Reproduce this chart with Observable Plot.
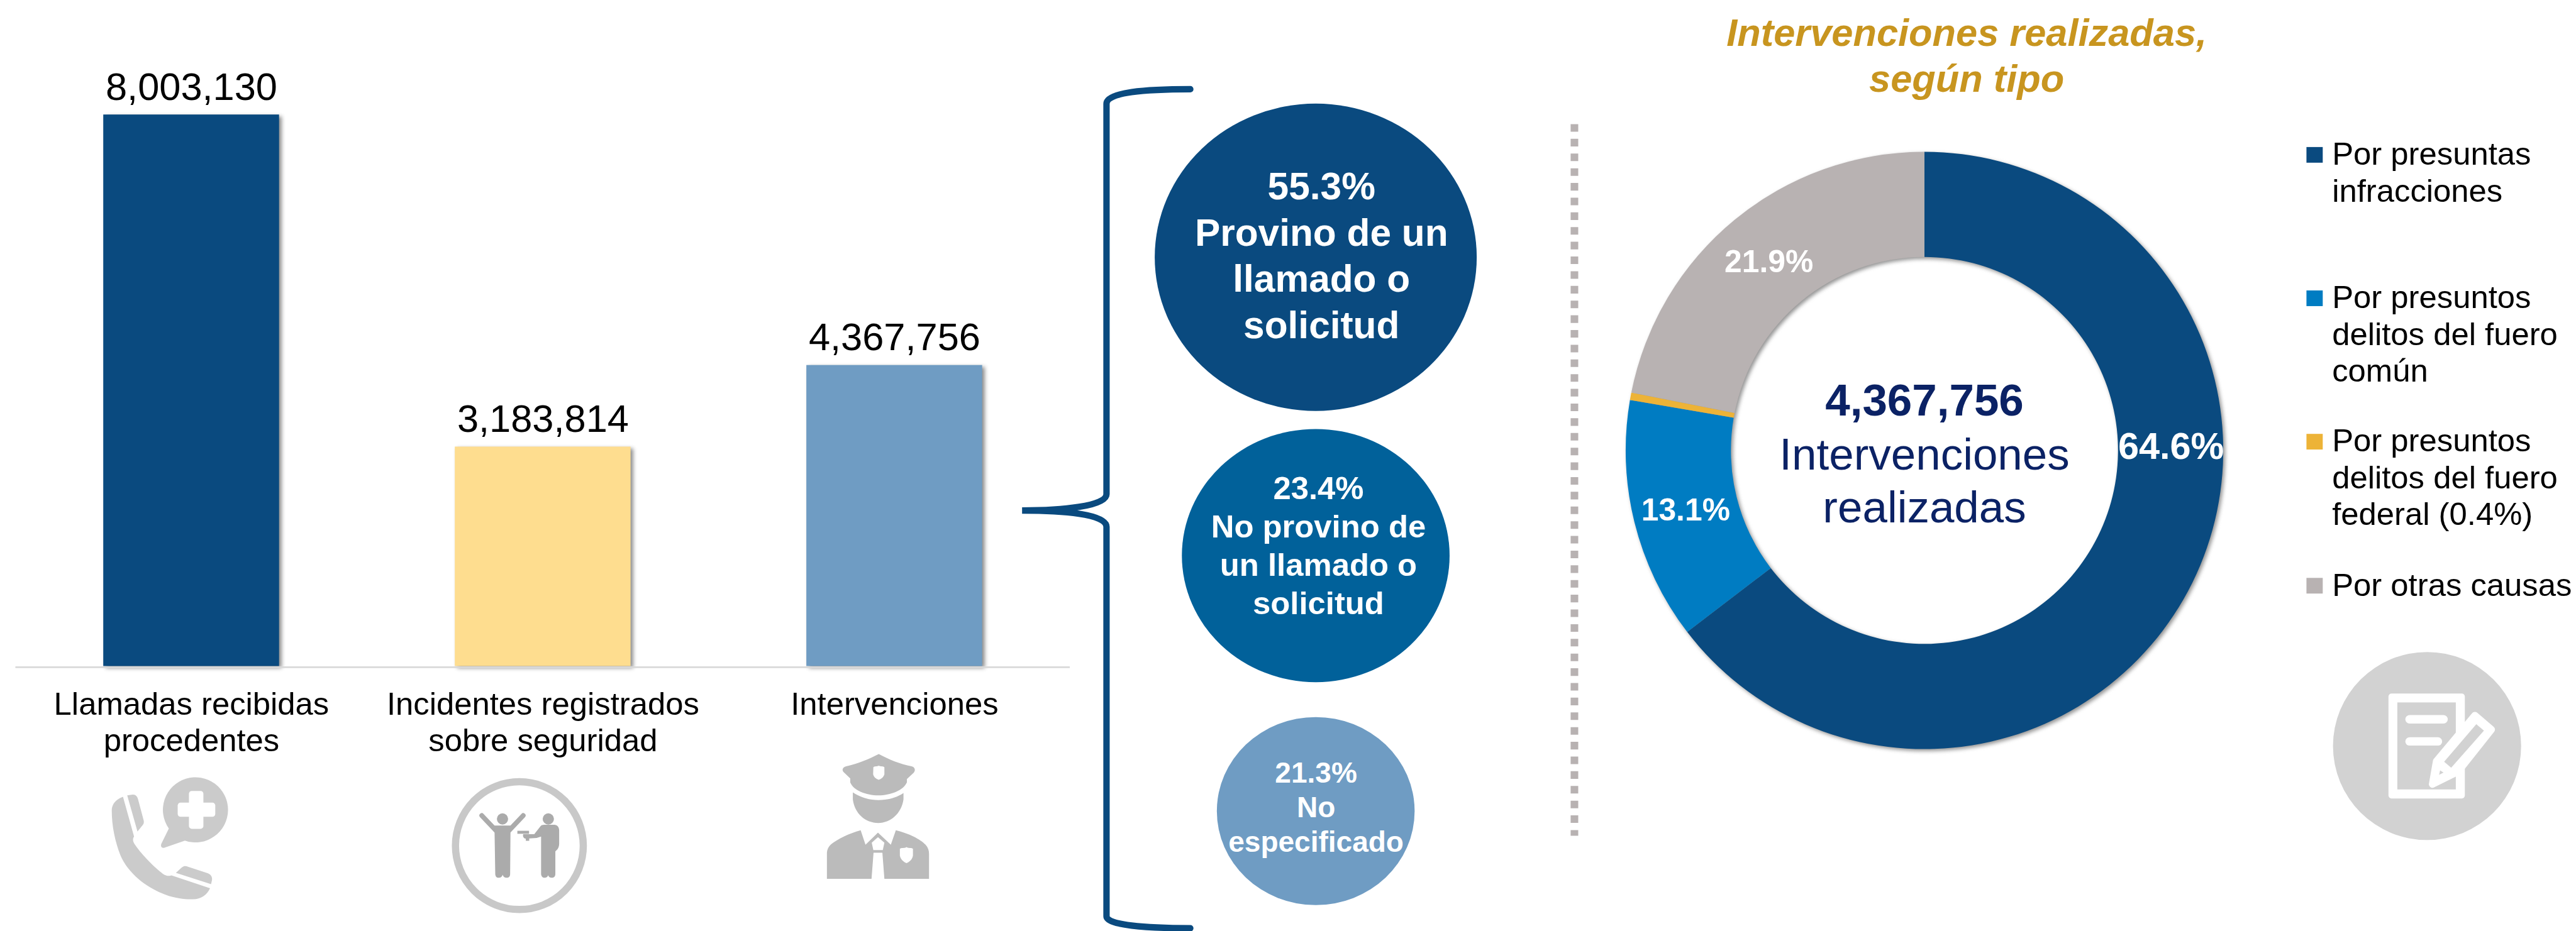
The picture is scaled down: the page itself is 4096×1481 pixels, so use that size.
<!DOCTYPE html>
<html><head><meta charset="utf-8">
<script src="https://cdn.jsdelivr.net/npm/d3@7"></script>
<script src="https://cdn.jsdelivr.net/npm/@observablehq/plot@0.6"></script>
<style>
html,body{margin:0;padding:0;background:#fff;overflow:hidden}
#stage{position:relative;width:4096px;height:1481px;background:#fff;overflow:hidden}
#stage svg{position:absolute;left:0;top:0;background:transparent}
</style></head><body><div id="stage"></div>
<script>
// ---------- data ----------
const categories = ["Llamadas recibidas\nprocedentes", "Incidentes registrados\nsobre seguridad", "Intervenciones"];
const counts = [8003130, 3183814, 4367756];
const barColors = ["#0A4A7F", "#FEDD8F", "#6F9CC3"];

const originLabels = ["55.3%\nProvino de un\nllamado o\nsolicitud", "23.4%\nNo provino de\nun llamado o\nsolicitud", "21.3%\nNo\nespecificado"];
const originColors = ["#0A4A7F", "#01619A", "#6F9CC3"];

const typeNames = ["Por presuntas\ninfracciones", "Por presuntos\ndelitos del fuero\ncomún", "Por presuntos\ndelitos del fuero\nfederal (0.4%)", "Por otras causas"];
const typeShares = [64.6, 13.1, 0.4, 21.9];
const typeColors = ["#0A4A7F", "#007CC2", "#EDB337", "#B8B2B2"];
const typeLabels = ["64.6%", "13.1%", "", "21.9%"];

const totalLabel = "4,367,756";
const centerLabel = "Intervenciones\nrealizadas";
const chartTitle = "Intervenciones realizadas,\nsegún tipo";

// ---------- layout, in reference pixels ----------
const REF_W = 4272, REF_H = 1545, W = 4096, H = 1481, k = W / REF_W;
const FONT = "Liberation Sans, Arial, sans-serif";
const bubbles = [
  {x: 2182, y: 427, rx: 267, ry: 255, fs: 63, lh: 77, top: 330, tx: 2191},
  {x: 2182, y: 922, rx: 222, ry: 210, fs: 53, lh: 63.5, top: 828, tx: 2186},
  {x: 2182, y: 1346, rx: 164, ry: 156, fs: 48, lh: 57.5, top: 1298, tx: 2182}
];
const legendY = [273, 511, 749, 988];
const donut = {x: 3191.5, y: 747.5, outer: 495.5, inner: 321};
const donutLabelPos = [
  {x: 3600, y: 761, fs: 62}, {x: 2795, y: 863, fs: 52}, null, {x: 2933, y: 451, fs: 52}
];

// All helpers draw through two linear scales spanning the reference frame.
const frame = {width: W, height: H, margin: 0, style: {background: "transparent", fontFamily: FONT},
  x: {domain: [0, REF_W], range: [0, W], axis: null}, y: {domain: [0, REF_H], range: [0, H], axis: null}};

// text placed by the baseline of its first line
const textLines = (str, x, y, fs, lh, opts = {}) =>
  Plot.text(str.split("\n").map((t, i) => ({t, x, y: y + i * lh})), {
    x: "x", y: "y", text: "t", fontSize: fs * k, lineAnchor: "bottom",
    fontFamily: FONT, ...opts
  });

// ---------- bars ----------
const barsPlot = Plot.plot({
  width: 1774.5 * k, height: H, marginLeft: 25.5 * k, marginRight: 0,
  marginTop: 190 * k, marginBottom: H - 1105 * k,
  style: {background: "transparent", fontFamily: FONT},
  x: {domain: categories, paddingInner: 0.5, paddingOuter: 0.25, round: false, label: null},
  y: {domain: [0, counts[0]], axis: null},
  marks: [
    Plot.barY(counts.map((v, i) => ({c: categories[i], v, f: barColors[i]})), {
      x: "c", y: "v", fill: "f", imageFilter: "drop-shadow(4px 3px 3px #8a8a8a)"
    }),
    Plot.ruleY([0], {stroke: "#D9D9D9", strokeWidth: 3 * k, dy: 1.5 * k}),
    Plot.text(counts.map((v, i) => ({c: categories[i], v})), {
      x: "c", y: "v", text: d => d3.format(",")(d.v), fontSize: 64 * k, fill: "#000",
      lineAnchor: "bottom", dy: -25 * k, fontFamily: FONT
    }),
    Plot.axisX({
      tickSize: 0, tickPadding: 0, fontSize: 53 * k, lineHeight: 61 / 53, fill: "#000",
      lineAnchor: "top", dy: 37 * k, label: null, fontFamily: FONT
    })
  ]
});

// ---------- donut ----------
const pie = d3.pie().sort(null)(typeShares);
const arc = d3.arc();
const donutMark = (index, {x, y}) => {
  const g = d3.create("svg:g").attr("transform", `translate(${x(donut.x)},${y(donut.y)})`)
    .attr("filter", "drop-shadow(3px 3px 3px rgba(110,110,110,.75))");
  g.selectAll("path").data(pie).join("path")
    .attr("fill", (d, i) => typeColors[i])
    .attr("d", d => arc({innerRadius: donut.inner * k, outerRadius: donut.outer * k, startAngle: d.startAngle, endAngle: d.endAngle}));
  return g.node();
};

// ---------- bubbles ----------
const bubbleMark = (index, {x, y}) => {
  const g = d3.create("svg:g");
  g.selectAll("ellipse").data(bubbles).join("ellipse")
    .attr("cx", d => x(d.x)).attr("cy", d => y(d.y))
    .attr("rx", d => d.rx * k).attr("ry", d => d.ry * k)
    .attr("fill", (d, i) => originColors[i]);
  return g.node();
};

// ---------- brace ----------
const braceMark = (index, {x, y}) => d3.create("svg:path")
  .attr("fill", "none").attr("stroke", "#0A4A7F").attr("stroke-width", 11 * k)
  .attr("stroke-linecap", "round")
  .attr("transform", `translate(${x(0)},${y(0)}) scale(${k})`)
  .attr("d", "M1974,148 C1900,148 1835,153 1835,172 L1835,820 C1835,840 1760,847 1695,847 C1760,847 1835,852 1835,874 L1835,1520 C1835,1535 1900,1540 1974,1540")
  .node();

// ---------- icons (path strings in 3x crop units) ----------
const iconMark = (ox, oy, build) => (index, {x, y}) => {
  const g = d3.create("svg:g").attr("transform", `translate(${x(ox)},${y(oy)}) scale(${k / 3})`);
  build(g);
  return g.node();
};
const P = (g, d, f) => g.append("path").attr("d", d).attr("fill", f);
const phone = g => {
  const c = "#CBCBCB";
  P(g, "M312,277 C275,290 256,315 256,345 C256,420 272,500 300,570 C335,650 420,730 540,770 C590,785 630,787 660,787 C700,787 730,765 745,732 L553,668 C545,672 525,672 510,660 C470,630 400,560 368,510 C360,495 360,485 367,475 Z", c);
  P(g, "M333,270 L360,266 C375,265 383,275 387,290 L415,395 C417,408 414,413 408,420 L384,450 Z", c);
  P(g, "M575,655 L605,628 C615,620 625,620 635,625 L735,658 C750,665 756,675 755,690 L750,712 Z", c);
  P(g, "M540,435 L503,510 C497,525 505,533 518,530 L620,495 A162,162 0 1 0 540,435 Z", c);
  g.append("rect").attr("x", 640).attr("y", 248).attr("width", 72).attr("height", 188).attr("rx", 14).attr("fill", "#fff");
  g.append("rect").attr("x", 584).attr("y", 306).attr("width", 187).attr("height", 70).attr("rx", 14).attr("fill", "#fff");
};
const suspects = g => {
  const c = "#ABABAB";
  g.append("circle").attr("cx", 424).attr("cy", 400).attr("r", 318).attr("fill", "none").attr("stroke", "#C8C8C8").attr("stroke-width", 36);
  g.append("circle").attr("cx", 340).attr("cy", 267).attr("r", 28).attr("fill", c);
  g.append("circle").attr("cx", 568).attr("cy", 267).attr("r", 28).attr("fill", c);
  g.append("path").attr("d", "M237,250 L308,325 M443,250 L372,325").attr("stroke", c).attr("stroke-width", 24).attr("stroke-linecap", "round").attr("fill", "none");
  P(g, "M300,300 L380,300 L378,540 C378,556 370,560 360,560 C350,560 343,555 341,545 C338,555 332,560 322,560 C310,560 304,552 304,540 Z", c);
  P(g, "M530,302 C535,296 545,296 555,296 L600,296 C615,298 622,310 622,325 L622,390 C622,410 612,422 603,428 L603,540 C603,554 595,560 585,560 C575,560 570,555 567,547 C565,555 558,560 550,560 C540,560 532,552 532,540 L532,355 L510,362 L473,364 L473,376 L456,376 L456,365 C448,365 442,358 442,350 L443,343 L498,343 Z", c);
  P(g, "M414,326 L472,326 L472,341 L414,341 Z", c);
};
const officer = g => {
  const c = "#BBBBBB";
  P(g, "M382,64 C430,90 490,115 545,125 C565,130 565,148 555,158 L522,188 L522,205 C505,245 440,270 380,270 C320,270 255,245 240,205 L240,185 L208,155 C198,145 200,130 220,125 C280,112 335,88 382,64 Z", c);
  P(g, "M355,130 C365,122 372,128 382,122 C392,128 400,122 410,130 L410,165 C405,180 395,188 382,192 C369,188 358,180 354,165 Z", "#fff");
  P(g, "M253,255 C300,285 340,293 380,293 C420,293 465,285 505,258 L505,290 C495,360 440,407 380,407 C315,407 262,360 253,290 Z", c);
  P(g, "M292,443 L316,515 L378,455 L442,515 L467,443 C530,458 590,488 615,515 C628,530 632,545 632,560 L632,685 L410,685 L400,555 L356,555 L346,685 L124,685 L124,560 C124,540 132,525 145,513 C175,488 235,458 292,443 Z", c);
  P(g, "M378,478 L410,505 L402,542 L355,542 L347,505 Z", "#fff");
  P(g, "M487,535 C500,528 508,535 520,527 C532,535 540,528 552,535 L552,570 C548,590 535,600 520,607 C505,600 492,590 487,570 Z", "#fff");
};
const document_ = g => {
  const c = "#D2D2D2";
  g.append("circle").attr("cx", 525).attr("cy", 474).attr("r", 468).attr("fill", c);
  g.append("rect").attr("x", 333).attr("y", 213).attr("width", 380).attr("height", 522).attr("rx", 15).attr("fill", "#fff");
  g.append("rect").attr("x", 377).attr("y", 257).attr("width", 291).attr("height", 433).attr("fill", c);
  g.append("rect").attr("x", 417).attr("y", 320).attr("width", 211).attr("height", 42).attr("rx", 21).attr("fill", "#fff");
  g.append("rect").attr("x", 417).attr("y", 430).attr("width", 183).attr("height", 42).attr("rx", 21).attr("fill", "#fff");
  g.append("path").attr("d", "M763,322 L845,392 L680,600 L552,664 L572,550 Z").attr("fill", "#fff").attr("stroke", "#fff").attr("stroke-width", 36).attr("stroke-linejoin", "round");
  P(g, "M770,365 L808,397 L645,582 L610,552 Z", c);
  P(g, "M590,595 L607,606 L585,617 Z", c);
};

// ---------- page layer ----------
const layer = Plot.plot({
  ...frame,
  marks: [
    braceMark,
    bubbleMark,
    ...bubbles.flatMap((b, i) => [
      textLines(originLabels[i], b.tx, b.top, b.fs, b.lh, {fill: "#fff", fontWeight: "bold"})
    ]),
    // dotted separator
    Plot.ruleX([2610.5], {y1: 206, y2: 1387, stroke: "#B8B2B2", strokeWidth: 12.6 * k, strokeDasharray: `${12.6 * k},${11.8 * k}`}),
    // title
    textLines(chartTitle, 3261, 76, 64, 76, {fill: "#C8951F", fontWeight: "bold", fontStyle: "italic"}),
    donutMark,
    ...typeLabels.flatMap((t, i) => t ? [
      textLines(t, donutLabelPos[i].x, donutLabelPos[i].y, donutLabelPos[i].fs, 0, {fill: "#fff", fontWeight: "bold"})
    ] : []),
    textLines(totalLabel, 3191, 689, 74, 0, {fill: "#0B2265", fontWeight: "bold"}),
    textLines(centerLabel, 3191, 779, 74, 87, {fill: "#0B2265"}),
    // legend
    Plot.rect(typeColors.map((f, i) => ({f, y1: legendY[i] - 29, y2: legendY[i] - 3})), {
      x1: () => 3825, x2: () => 3852, y1: "y1", y2: "y2", fill: "f"
    }),
    ...typeNames.map((t, i) => textLines(t, 3867, legendY[i], 53, 61, {textAnchor: "start", fill: "#000"})),
    // icons
    iconMark(100, 1230, phone),
    iconMark(720, 1270, suspects),
    iconMark(1330, 1230, officer),
    iconMark(3850, 1080, document_)
  ]
});

const stage = document.getElementById("stage");
stage.append(barsPlot, layer);
</script></body></html>
